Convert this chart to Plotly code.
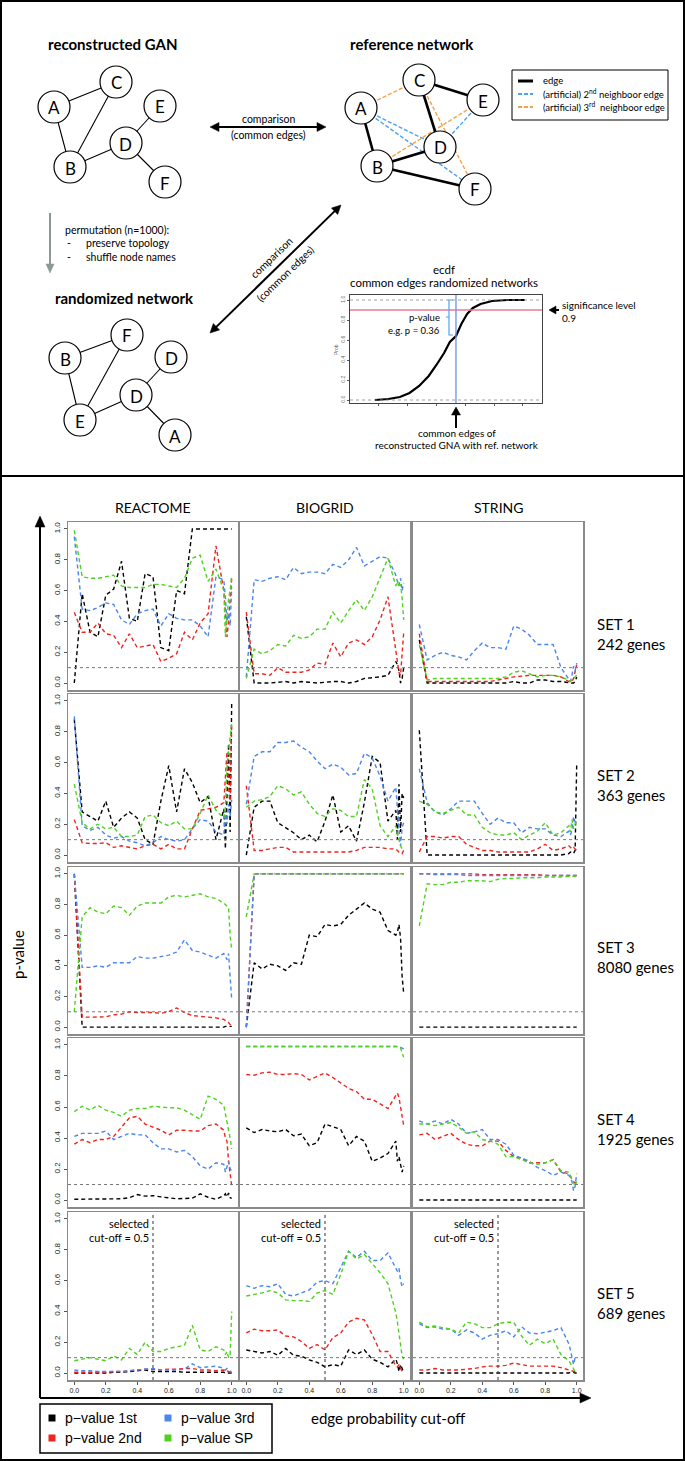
import math
import plotly.graph_objects as go

W, H = 685, 1461

# ---------------------------------------------------------------- data
cutoff = [0.00, 0.05, 0.10, 0.15, 0.20, 0.25, 0.30, 0.35, 0.40, 0.45, 0.50, 0.55, 0.60,
          0.65, 0.70, 0.75, 0.80, 0.85, 0.90, 0.95, 0.96, 0.97, 0.98, 0.99, 1.00]
databases = ["REACTOME", "BIOGRID", "STRING"]
gene_sets = ["SET 1", "SET 2", "SET 3", "SET 4", "SET 5"]
gene_counts = ["242 genes", "363 genes", "8080 genes", "1925 genes", "689 genes"]
series_labels = ["p\u2212value 1st", "p\u2212value 2nd", "p\u2212value 3rd", "p\u2212value SP"]
tick_vals = [0, 0.2, 0.4, 0.6, 0.8, 1.0]
tick_text = ["0.0", "0.2", "0.4", "0.6", "0.8", "1.0"]
significance = 0.1
selected_cutoff = 0.5

# SET 1
s1_reac_p1 = [0.00, 0.58, 0.33, 0.30, 0.57, 0.61, 0.79, 0.42, 0.40, 0.71, 0.69, 0.23, 0.21, 0.60, 0.58, 1.00, 1.00, 1.00, 1.00, 1.00, 1.00, 1.00, 1.00, 1.00, 1.00]
s1_reac_p2 = [0.46, 0.33, 0.33, 0.39, 0.32, 0.31, 0.23, 0.32, 0.23, 0.24, 0.25, 0.14, 0.16, 0.19, 0.33, 0.28, 0.39, 0.45, 0.89, 0.60, 0.45, 0.30, 0.40, 0.55, 0.68]
s1_reac_p3 = [0.95, 0.48, 0.47, 0.49, 0.52, 0.51, 0.41, 0.38, 0.45, 0.47, 0.48, 0.37, 0.45, 0.42, 0.41, 0.41, 0.37, 0.30, 0.69, 0.67, 0.55, 0.40, 0.45, 0.37, 0.62]
s1_reac_sp = [0.99, 0.69, 0.68, 0.68, 0.69, 0.70, 0.63, 0.62, 0.62, 0.62, 0.64, 0.64, 0.63, 0.62, 0.68, 0.81, 0.83, 0.66, 0.74, 0.60, 0.30, 0.45, 0.55, 0.60, 0.70]
s1_bio_p1 = [0.43, 0.00, 0.00, 0.00, 0.005, 0.01, 0.00, 0.01, 0.005, 0.00, 0.005, 0.01, 0.01, 0.00, 0.01, 0.03, 0.035, 0.04, 0.05, 0.14, 0.12, 0.08, 0.00, 0.03, 0.10]
s1_bio_p2 = [0.46, 0.06, 0.06, 0.05, 0.10, 0.07, 0.07, 0.07, 0.085, 0.13, 0.12, 0.26, 0.17, 0.26, 0.28, 0.25, 0.30, 0.41, 0.56, 0.21, 0.13, 0.07, 0.05, 0.20, 0.33]
s1_bio_p3 = [0.04, 0.67, 0.66, 0.68, 0.69, 0.67, 0.75, 0.71, 0.72, 0.72, 0.71, 0.77, 0.75, 0.80, 0.88, 0.76, 0.79, 0.82, 0.81, 0.70, 0.66, 0.63, 0.68, 0.60, 0.65]
s1_bio_sp = [0.03, 0.22, 0.19, 0.21, 0.25, 0.24, 0.31, 0.29, 0.30, 0.35, 0.35, 0.46, 0.39, 0.47, 0.54, 0.47, 0.56, 0.69, 0.81, 0.63, 0.66, 0.62, 0.64, 0.55, 0.41]
s1_str_p1 = [0.28, 0.00, 0.00, 0.00, 0.00, 0.00, 0.00, 0.00, 0.00, 0.00, 0.00, 0.00, 0.01, 0.00, 0.00, 0.02, 0.02, 0.01, 0.01, 0.00, 0.00, 0.00, 0.00, 0.01, 0.04]
s1_str_p2 = [0.32, 0.01, 0.01, 0.01, 0.01, 0.01, 0.01, 0.01, 0.01, 0.01, 0.02, 0.03, 0.04, 0.045, 0.05, 0.05, 0.05, 0.05, 0.04, 0.01, 0.01, 0.01, 0.03, 0.08, 0.12]
s1_str_p3 = [0.38, 0.15, 0.18, 0.20, 0.18, 0.17, 0.15, 0.21, 0.26, 0.23, 0.23, 0.22, 0.37, 0.35, 0.31, 0.25, 0.25, 0.25, 0.10, 0.02, 0.01, 0.05, 0.11, 0.08, 0.13]
s1_str_sp = [0.25, 0.02, 0.03, 0.03, 0.03, 0.03, 0.03, 0.03, 0.03, 0.03, 0.03, 0.04, 0.07, 0.08, 0.06, 0.04, 0.05, 0.05, 0.04, 0.02, 0.01, 0.02, 0.03, 0.04, 0.05]
# SET 2
s2_reac_p1 = [0.88, 0.28, 0.25, 0.22, 0.35, 0.18, 0.24, 0.28, 0.24, 0.10, 0.07, 0.35, 0.58, 0.28, 0.56, 0.47, 0.34, 0.38, 0.10, 0.30, 0.04, 0.40, 0.72, 0.15, 1.00]
s2_reac_p2 = [0.23, 0.08, 0.075, 0.075, 0.08, 0.05, 0.06, 0.05, 0.04, 0.06, 0.07, 0.04, 0.07, 0.04, 0.04, 0.17, 0.29, 0.30, 0.31, 0.34, 0.50, 0.67, 0.45, 0.35, 0.85]
s2_reac_p3 = [0.90, 0.19, 0.16, 0.18, 0.13, 0.11, 0.12, 0.09, 0.08, 0.06, 0.08, 0.12, 0.10, 0.09, 0.10, 0.17, 0.23, 0.22, 0.15, 0.13, 0.29, 0.20, 0.33, 0.25, 0.36]
s2_reac_sp = [0.46, 0.21, 0.17, 0.20, 0.17, 0.18, 0.12, 0.12, 0.13, 0.25, 0.26, 0.21, 0.19, 0.22, 0.17, 0.17, 0.27, 0.39, 0.29, 0.24, 0.31, 0.57, 0.68, 0.76, 0.85]
s2_bio_p1 = [0.00, 0.31, 0.35, 0.35, 0.21, 0.18, 0.145, 0.10, 0.13, 0.085, 0.22, 0.39, 0.15, 0.19, 0.09, 0.34, 0.64, 0.60, 0.22, 0.29, 0.10, 0.46, 0.15, 0.40, 0.37]
s2_bio_p2 = [0.45, 0.03, 0.03, 0.04, 0.05, 0.05, 0.02, 0.02, 0.02, 0.02, 0.02, 0.02, 0.02, 0.02, 0.03, 0.05, 0.05, 0.05, 0.04, 0.04, 0.03, 0.02, 0.02, 0.01, 0.03]
s2_bio_p3 = [0.33, 0.64, 0.67, 0.67, 0.73, 0.73, 0.74, 0.70, 0.67, 0.61, 0.56, 0.59, 0.57, 0.52, 0.53, 0.66, 0.63, 0.51, 0.35, 0.44, 0.30, 0.20, 0.06, 0.18, 0.21]
s2_bio_sp = [0.31, 0.35, 0.36, 0.38, 0.45, 0.43, 0.39, 0.41, 0.33, 0.27, 0.25, 0.30, 0.29, 0.25, 0.25, 0.49, 0.43, 0.19, 0.12, 0.19, 0.14, 0.10, 0.06, 0.04, 0.05]
s2_str_p1 = [0.81, 0.00, 0.00, 0.00, 0.00, 0.00, 0.00, 0.00, 0.00, 0.00, 0.00, 0.00, 0.00, 0.00, 0.00, 0.00, 0.00, 0.00, 0.00, 0.01, 0.02, 0.015, 0.01, 0.03, 0.59]
s2_str_p2 = [0.02, 0.12, 0.12, 0.11, 0.12, 0.12, 0.07, 0.05, 0.03, 0.03, 0.02, 0.02, 0.02, 0.02, 0.02, 0.04, 0.07, 0.03, 0.04, 0.06, 0.05, 0.04, 0.05, 0.04, 0.03]
s2_str_p3 = [0.56, 0.34, 0.28, 0.26, 0.30, 0.35, 0.35, 0.35, 0.27, 0.20, 0.24, 0.21, 0.21, 0.145, 0.18, 0.17, 0.17, 0.13, 0.12, 0.155, 0.13, 0.16, 0.25, 0.21, 0.21]
s2_str_sp = [0.35, 0.33, 0.28, 0.27, 0.29, 0.31, 0.26, 0.26, 0.18, 0.145, 0.13, 0.13, 0.145, 0.10, 0.13, 0.155, 0.21, 0.13, 0.145, 0.19, 0.15, 0.23, 0.17, 0.20, 0.23]
# SET 3
s3_reac_p1 = [1.00, 0.00, 0.00, 0.00, 0.00, 0.00, 0.00, 0.00, 0.00, 0.00, 0.00, 0.00, 0.00, 0.00, 0.00, 0.00, 0.00, 0.00, 0.00, 0.00, 0.005, 0.005, 0.005, 0.005, 0.005]
s3_reac_p2 = [1.00, 0.065, 0.065, 0.065, 0.067, 0.08, 0.085, 0.10, 0.095, 0.095, 0.095, 0.09, 0.10, 0.125, 0.095, 0.075, 0.07, 0.065, 0.06, 0.05, 0.04, 0.035, 0.03, 0.02, 0.005]
s3_reac_p3 = [1.00, 0.39, 0.39, 0.40, 0.39, 0.42, 0.42, 0.42, 0.46, 0.45, 0.45, 0.46, 0.47, 0.49, 0.57, 0.50, 0.49, 0.47, 0.45, 0.48, 0.46, 0.44, 0.48, 0.35, 0.18]
s3_reac_sp = [0.10, 0.72, 0.78, 0.75, 0.74, 0.79, 0.78, 0.73, 0.79, 0.81, 0.81, 0.81, 0.85, 0.86, 0.85, 0.86, 0.87, 0.85, 0.84, 0.81, 0.80, 0.79, 0.78, 0.60, 0.50]
s3_bio_p1 = [0.00, 0.42, 0.38, 0.41, 0.40, 0.37, 0.42, 0.41, 0.60, 0.59, 0.67, 0.66, 0.67, 0.73, 0.77, 0.81, 0.77, 0.75, 0.63, 0.60, 0.62, 0.67, 0.58, 0.33, 0.22]
s3_bio_p2 = [0.00, 1.00, 1.00, 1.00, 1.00, 1.00, 1.00, 1.00, 1.00, 1.00, 1.00, 1.00, 1.00, 1.00, 1.00, 1.00, 1.00, 1.00, 1.00, 1.00, 1.00, 1.00, 1.00, 1.00, 1.00]
s3_bio_p3 = [0.00, 1.00, 1.00, 1.00, 1.00, 1.00, 1.00, 1.00, 1.00, 1.00, 1.00, 1.00, 1.00, 1.00, 1.00, 1.00, 1.00, 1.00, 1.00, 1.00, 1.00, 1.00, 1.00, 1.00, 1.00]
s3_bio_sp = [0.72, 1.00, 1.00, 1.00, 1.00, 1.00, 1.00, 1.00, 1.00, 1.00, 1.00, 1.00, 1.00, 1.00, 1.00, 1.00, 1.00, 1.00, 1.00, 1.00, 1.00, 1.00, 1.00, 1.00, 1.00]
s3_str_p1 = [0.00, 0.00, 0.00, 0.00, 0.00, 0.00, 0.00, 0.00, 0.00, 0.00, 0.00, 0.00, 0.00, 0.00, 0.00, 0.00, 0.00, 0.00, 0.00, 0.00, 0.00, 0.00, 0.00, 0.00, 0.00]
s3_str_p2 = [1.00, 1.00, 1.00, 1.00, 1.00, 1.00, 1.00, 1.00, 0.995, 0.995, 0.995, 0.995, 0.995, 0.995, 0.995, 0.995, 0.99, 0.99, 0.99, 0.99, 0.99, 0.99, 0.99, 0.99, 0.99]
s3_str_p3 = [1.00, 1.00, 0.995, 0.995, 0.995, 0.995, 0.99, 0.99, 0.99, 0.99, 0.99, 0.99, 0.99, 0.99, 0.99, 0.99, 0.99, 0.99, 0.99, 0.99, 0.99, 0.99, 0.99, 0.99, 0.99]
s3_str_sp = [0.66, 0.935, 0.93, 0.93, 0.945, 0.945, 0.955, 0.955, 0.955, 0.95, 0.965, 0.97, 0.97, 0.975, 0.975, 0.975, 0.98, 0.98, 0.98, 0.985, 0.985, 0.985, 0.985, 0.985, 0.985]
# SET 4
s4_reac_p1 = [0.005, 0.005, 0.005, 0.005, 0.005, 0.005, 0.008, 0.015, 0.035, 0.025, 0.028, 0.02, 0.012, 0.008, 0.01, 0.012, 0.04, 0.018, 0.005, 0.028, 0.04, 0.02, 0.045, 0.015, 0.01]
s4_reac_p2 = [0.36, 0.39, 0.37, 0.39, 0.39, 0.41, 0.47, 0.53, 0.54, 0.49, 0.47, 0.45, 0.42, 0.45, 0.45, 0.445, 0.445, 0.48, 0.49, 0.45, 0.40, 0.38, 0.25, 0.15, 0.09]
s4_reac_p3 = [0.41, 0.43, 0.43, 0.43, 0.445, 0.39, 0.41, 0.43, 0.42, 0.42, 0.37, 0.33, 0.33, 0.31, 0.32, 0.28, 0.22, 0.20, 0.24, 0.23, 0.18, 0.22, 0.25, 0.20, 0.19]
s4_reac_sp = [0.57, 0.605, 0.58, 0.61, 0.58, 0.565, 0.54, 0.58, 0.59, 0.59, 0.605, 0.60, 0.595, 0.595, 0.58, 0.55, 0.52, 0.67, 0.65, 0.61, 0.55, 0.50, 0.45, 0.40, 0.33]
s4_bio_p1 = [0.465, 0.435, 0.455, 0.445, 0.44, 0.455, 0.415, 0.425, 0.35, 0.37, 0.49, 0.47, 0.455, 0.35, 0.41, 0.38, 0.25, 0.27, 0.30, 0.38, 0.25, 0.28, 0.22, 0.18, 0.22]
s4_bio_p2 = [0.81, 0.805, 0.82, 0.825, 0.81, 0.81, 0.815, 0.81, 0.775, 0.80, 0.82, 0.79, 0.755, 0.72, 0.70, 0.65, 0.65, 0.62, 0.59, 0.675, 0.69, 0.66, 0.60, 0.55, 0.48]
s4_bio_p3 = [0.99, 0.99, 0.99, 0.99, 0.99, 0.99, 0.99, 0.99, 0.99, 0.99, 0.99, 0.99, 0.99, 0.99, 0.99, 0.99, 0.99, 0.99, 0.99, 0.99, 0.99, 0.99, 0.985, 0.98, 0.975]
s4_bio_sp = [0.99, 0.99, 0.99, 0.99, 0.99, 0.99, 0.99, 0.99, 0.99, 0.99, 0.99, 0.99, 0.99, 0.99, 0.99, 0.99, 0.99, 0.99, 0.99, 0.99, 0.99, 0.985, 0.98, 0.95, 0.92]
s4_str_p1 = [0.00, 0.00, 0.00, 0.00, 0.00, 0.00, 0.00, 0.00, 0.00, 0.00, 0.00, 0.00, 0.00, 0.00, 0.00, 0.00, 0.00, 0.00, 0.00, 0.00, 0.00, 0.00, 0.00, 0.00, 0.00]
s4_str_p2 = [0.42, 0.43, 0.39, 0.41, 0.43, 0.39, 0.36, 0.35, 0.35, 0.38, 0.38, 0.32, 0.28, 0.27, 0.24, 0.24, 0.24, 0.26, 0.18, 0.17, 0.15, 0.135, 0.12, 0.11, 0.13]
s4_str_p3 = [0.51, 0.49, 0.51, 0.49, 0.52, 0.49, 0.43, 0.44, 0.455, 0.39, 0.39, 0.36, 0.29, 0.27, 0.25, 0.21, 0.19, 0.16, 0.18, 0.16, 0.14, 0.12, 0.06, 0.09, 0.17]
s4_str_sp = [0.49, 0.49, 0.48, 0.49, 0.50, 0.47, 0.43, 0.44, 0.39, 0.38, 0.36, 0.28, 0.28, 0.26, 0.24, 0.23, 0.24, 0.26, 0.19, 0.18, 0.16, 0.14, 0.12, 0.09, 0.12]
# SET 5
s5_reac_p1 = [0.00, 0.00, 0.00, 0.00, 0.00, 0.005, 0.005, 0.01, 0.015, 0.02, 0.01, 0.01, 0.01, 0.01, 0.005, 0.005, 0.005, 0.005, 0.005, 0.005, 0.00, 0.00, 0.00, 0.00, 0.00]
s5_reac_p2 = [0.005, 0.005, 0.005, 0.005, 0.005, 0.01, 0.01, 0.015, 0.02, 0.025, 0.025, 0.02, 0.025, 0.025, 0.03, 0.03, 0.02, 0.02, 0.015, 0.02, 0.01, 0.015, 0.01, 0.005, 0.005]
s5_reac_p3 = [0.02, 0.015, 0.015, 0.01, 0.01, 0.01, 0.01, 0.015, 0.02, 0.025, 0.03, 0.02, 0.02, 0.02, 0.025, 0.06, 0.035, 0.04, 0.045, 0.03, 0.02, 0.03, 0.02, 0.01, 0.01]
s5_reac_sp = [0.08, 0.09, 0.10, 0.09, 0.08, 0.11, 0.085, 0.16, 0.12, 0.20, 0.14, 0.14, 0.16, 0.17, 0.18, 0.31, 0.15, 0.14, 0.17, 0.15, 0.12, 0.14, 0.10, 0.12, 0.40]
s5_bio_p1 = [0.15, 0.14, 0.13, 0.14, 0.115, 0.16, 0.115, 0.11, 0.085, 0.07, 0.04, 0.055, 0.045, 0.15, 0.12, 0.15, 0.09, 0.07, 0.04, 0.09, 0.06, 0.01, 0.055, 0.03, 0.005]
s5_bio_p2 = [0.26, 0.285, 0.275, 0.275, 0.28, 0.24, 0.235, 0.205, 0.16, 0.185, 0.15, 0.23, 0.26, 0.33, 0.355, 0.345, 0.25, 0.14, 0.14, 0.045, 0.04, 0.055, 0.03, 0.01, 0.005]
s5_bio_p3 = [0.567, 0.55, 0.567, 0.56, 0.58, 0.51, 0.50, 0.52, 0.54, 0.59, 0.60, 0.58, 0.68, 0.79, 0.75, 0.79, 0.73, 0.73, 0.78, 0.68, 0.66, 0.68, 0.60, 0.56, 0.58]
s5_bio_sp = [0.50, 0.51, 0.52, 0.535, 0.52, 0.475, 0.47, 0.47, 0.465, 0.52, 0.535, 0.51, 0.64, 0.79, 0.74, 0.77, 0.71, 0.65, 0.58, 0.39, 0.33, 0.26, 0.18, 0.11, 0.09]
s5_str_p1 = [0.00, 0.00, 0.00, 0.00, 0.00, 0.00, 0.00, 0.00, 0.00, 0.00, 0.00, 0.00, 0.00, 0.00, 0.00, 0.00, 0.00, 0.00, 0.00, 0.00, 0.005, 0.005, 0.005, 0.00, 0.00]
s5_str_p2 = [0.02, 0.02, 0.03, 0.02, 0.02, 0.02, 0.025, 0.03, 0.04, 0.045, 0.045, 0.05, 0.065, 0.055, 0.045, 0.045, 0.045, 0.045, 0.035, 0.02, 0.015, 0.01, 0.01, 0.005, 0.005]
s5_str_p3 = [0.32, 0.295, 0.30, 0.285, 0.285, 0.245, 0.28, 0.26, 0.22, 0.245, 0.255, 0.275, 0.235, 0.30, 0.26, 0.255, 0.265, 0.275, 0.295, 0.19, 0.15, 0.10, 0.055, 0.10, 0.105]
s5_str_sp = [0.33, 0.30, 0.305, 0.295, 0.285, 0.26, 0.33, 0.32, 0.295, 0.295, 0.32, 0.33, 0.33, 0.24, 0.18, 0.22, 0.19, 0.22, 0.12, 0.08, 0.06, 0.05, 0.03, 0.01, 0.00]

# ecdf inset (common edges of randomized networks vs cumulative probability)
ecdf_edges = [13, 20, 26, 31, 36, 41, 45, 49, 52, 55.2, 58, 61, 64, 68, 74, 82, 91]
ecdf_prob = [0.0, 0.01, 0.03, 0.07, 0.14, 0.24, 0.35, 0.47, 0.58, 0.64, 0.76, 0.86, 0.92, 0.96, 0.99, 1.0, 1.0]
ecdf_xticks = [15, 30, 45, 60, 75, 90]
observed_edges = 55.2
sig_level = 0.9

# network diagram topology
gan_nodes = {"A": (54, 107), "C": (116, 82), "E": (160, 106), "D": (126, 143), "B": (70, 167), "F": (165, 182)}
gan_edges = [("A", "C"), ("A", "B"), ("B", "C"), ("B", "D"), ("D", "E"), ("D", "F")]
ref_nodes = {"C": (419, 80), "A": (361, 108), "E": (483, 100), "D": (440, 147), "B": (377, 166), "F": (475, 189)}
ref_edges = [("A", "B"), ("C", "E"), ("C", "D"), ("B", "D"), ("B", "F")]
ref_2nd = [("A", "D"), ("A", "F"), ("D", "E")]
ref_3rd = [("A", "C"), ("B", "E"), ("C", "F")]
rnd_labels = ["F", "B", "D", "D", "E", "A"]
rnd_pos = [(127, 335), (65, 358), (171, 357), (136, 395), (80, 420), (175, 435)]
rnd_edges = [(1, 0), (1, 4), (4, 0), (4, 3), (3, 2), (3, 5)]

# ---------------------------------------------------------------- styling / geometry
series_colors = ["#000000", "#f0241e", "#4a86ec", "#4ed21e"]
BOX = "#8a8a8a"
DF = "Lato"
NODE_R = 16
COL_X = [(68, 238), (240, 410), (413, 583)]
ROW_Y = [(522, 690), (694, 862), (867, 1034), (1038, 1207), (1212, 1380)]
SET_LABEL_Y = [624, 775, 947, 1119, 1293]

panel_values = [
    [(s1_reac_p1, s1_reac_p2, s1_reac_p3, s1_reac_sp), (s1_bio_p1, s1_bio_p2, s1_bio_p3, s1_bio_sp), (s1_str_p1, s1_str_p2, s1_str_p3, s1_str_sp)],
    [(s2_reac_p1, s2_reac_p2, s2_reac_p3, s2_reac_sp), (s2_bio_p1, s2_bio_p2, s2_bio_p3, s2_bio_sp), (s2_str_p1, s2_str_p2, s2_str_p3, s2_str_sp)],
    [(s3_reac_p1, s3_reac_p2, s3_reac_p3, s3_reac_sp), (s3_bio_p1, s3_bio_p2, s3_bio_p3, s3_bio_sp), (s3_str_p1, s3_str_p2, s3_str_p3, s3_str_sp)],
    [(s4_reac_p1, s4_reac_p2, s4_reac_p3, s4_reac_sp), (s4_bio_p1, s4_bio_p2, s4_bio_p3, s4_bio_sp), (s4_str_p1, s4_str_p2, s4_str_p3, s4_str_sp)],
    [(s5_reac_p1, s5_reac_p2, s5_reac_p3, s5_reac_sp), (s5_bio_p1, s5_bio_p2, s5_bio_p3, s5_bio_sp), (s5_str_p1, s5_str_p2, s5_str_p3, s5_str_sp)],
]


def PX(x):
    return x / W


def PY(y):
    return 1 - y / H


fig = go.Figure()
axes = {}
shapes = []
ann = []


def text(t, x, y, size, anchor="center", bold=False, angle=0, family=DF, color="black", align="center"):
    ann.append(dict(text=f"<b>{t}</b>" if bold else t, x=PX(x), y=PY(y), xref="paper", yref="paper",
                    showarrow=False, xanchor=anchor, yanchor="middle", textangle=angle, align=align,
                    font=dict(family=family, size=size, color=color)))


def pline(x0, y0, x1, y1, color="black", width=1, dash="solid"):
    shapes.append(dict(type="line", xref="paper", yref="paper", x0=PX(x0), y0=PY(y0), x1=PX(x1), y1=PY(y1),
                       line=dict(color=color, width=width, dash=dash)))


def head(tx, ty, ux, uy, length, half, color):
    # filled triangular arrow head with its tip at (tx, ty), pointing along (ux, uy)
    bx, by = tx - ux * length, ty - uy * length
    nx, ny = -uy, ux
    p1 = (bx + nx * half, by + ny * half)
    p2 = (bx - nx * half, by - ny * half)
    path = (f"M {PX(tx)} {PY(ty)} L {PX(p1[0])} {PY(p1[1])} L {PX(p2[0])} {PY(p2[1])} Z")
    shapes.append(dict(type="path", xref="paper", yref="paper", path=path, fillcolor=color,
                       line=dict(color=color, width=0.5)))


def arrow(x0, y0, x1, y1, width=2, color="black", both=False, length=9, half=4.5):
    d = math.hypot(x1 - x0, y1 - y0)
    ux, uy = (x1 - x0) / d, (y1 - y0) / d
    sx, sy = x0, y0
    ex, ey = x1 - ux * length * 0.7, y1 - uy * length * 0.7
    if both:
        sx, sy = x0 + ux * length * 0.7, y0 + uy * length * 0.7
    pline(sx, sy, ex, ey, color=color, width=width)
    head(x1, y1, ux, uy, length, half, color)
    if both:
        head(x0, y0, -ux, -uy, length, half, color)


def node(label, cx, cy):
    shapes.append(dict(type="circle", xref="paper", yref="paper", x0=PX(cx - NODE_R), x1=PX(cx + NODE_R),
                       y0=PY(cy + NODE_R), y1=PY(cy - NODE_R), line=dict(color="black", width=1.2),
                       fillcolor="white"))
    text(label, cx, cy + 1, 17)


# ---------------------------------------------------------------- frame
shapes.append(dict(type="rect", xref="paper", yref="paper", x0=0, x1=1, y0=0, y1=1,
                   line=dict(color="black", width=4)))
pline(0, 476, W, 476, width=2)

# ---------------------------------------------------------------- top diagram
text("reconstructed GAN", 113, 44, 15, bold=True)
text("reference network", 412, 44, 15, bold=True)
text("randomized network", 124, 298, 15, bold=True)

for a, b in gan_edges:
    pline(*gan_nodes[a], *gan_nodes[b], width=1.1)
for a, b in ref_2nd:
    pline(*ref_nodes[a], *ref_nodes[b], color="#4da3f0", width=1.4, dash="4px,2px")
for a, b in ref_3rd:
    pline(*ref_nodes[a], *ref_nodes[b], color="#f5a04a", width=1.4, dash="4px,2px")
for a, b in ref_edges:
    pline(*ref_nodes[a], *ref_nodes[b], width=2.6)
for a, b in rnd_edges:
    pline(*rnd_pos[a], *rnd_pos[b], width=1.1)
for k, (x, y) in gan_nodes.items():
    node(k, x, y)
for k, (x, y) in ref_nodes.items():
    node(k, x, y)
for lab, (x, y) in zip(rnd_labels, rnd_pos):
    node(lab, x, y)

# legend of reference network
shapes.append(dict(type="rect", xref="paper", yref="paper", x0=PX(512), x1=PX(668), y0=PY(120), y1=PY(70),
                   line=dict(color="black", width=1), fillcolor="white"))
pline(518, 81, 533, 81, width=3)
pline(518, 94, 533, 94, color="#4da3f0", width=2, dash="4px,2px")
pline(518, 107, 533, 107, color="#f5a04a", width=2, dash="4px,2px")
text("edge", 541, 81, 9.5, anchor="left")
text("(artificial) 2<sup>nd</sup> neighboor edge", 541, 94, 9.5, anchor="left")
text("(artificial) 3<sup>rd</sup>  neighboor edge", 541, 107, 9.5, anchor="left")

# comparison arrows
arrow(210, 127, 326, 127, width=2, both=True)
text("comparison", 268, 119, 10.5)
text("(common edges)", 268, 135, 10.5)
arrow(210, 333, 341, 205, width=2, both=True)
text("comparison", 271, 258, 10.5, angle=-44)
text("(common edges)", 285, 274, 10.5, angle=-44)

# permutation
arrow(50, 213, 50, 273, width=2, color="#8a9896", length=9, half=4)
text("permutation (n=1000):", 63, 230, 10.5, anchor="left")
text("-", 65, 243, 10.5, anchor="left")
text("-", 65, 257, 10.5, anchor="left")
text("preserve topology", 84, 243, 10.5, anchor="left")
text("shuffle node names", 84, 257, 10.5, anchor="left")

# ecdf inset
axes["xaxis16"] = dict(domain=[PX(350), PX(542)], anchor="y16", range=[0, 100], showline=True, mirror=True,
                       linecolor="#444", linewidth=1, showgrid=False, zeroline=False, tickmode="array",
                       tickvals=ecdf_xticks, showticklabels=False, ticks="outside", ticklen=2,
                       tickcolor="#555")
axes["yaxis16"] = dict(domain=[PY(403), PY(295)], anchor="x16", range=[-0.03, 1.05], showline=True, mirror=True,
                       linecolor="#444", linewidth=1, showgrid=False, zeroline=False, tickmode="array",
                       tickvals=tick_vals, ticktext=tick_text, ticks="outside", ticklen=2, tickcolor="#555",
                       tickangle=-90, tickfont=dict(size=5, family="Arial", color="#666"))
for yv in (0, 1):
    shapes.append(dict(type="line", xref="x16 domain", yref="y16", x0=0, x1=1, y0=yv, y1=yv,
                       line=dict(color="#888", width=0.8, dash="dot")))
shapes.append(dict(type="line", xref="x16 domain", yref="y16", x0=0, x1=1, y0=sig_level, y1=sig_level,
                   line=dict(color="#ef7896", width=1.6)))
shapes.append(dict(type="line", xref="x16", yref="y16 domain", x0=observed_edges, x1=observed_edges, y0=0, y1=1,
                   line=dict(color="#6b90ea", width=1.3)))
fig.add_trace(go.Scatter(x=ecdf_edges, y=ecdf_prob, mode="lines", line=dict(color="black", width=2.2),
                         xaxis="x16", yaxis="y16", hoverinfo="skip", showlegend=False))
shapes.append(dict(type="path", xref="paper", yref="paper",
                   path=f"M {PX(453)} {PY(300)} L {PX(449)} {PY(300)} L {PX(449)} {PY(335)} L {PX(453)} {PY(335)} "
                        f"M {PX(449)} {PY(317)} L {PX(446)} {PY(317)}",
                   line=dict(color="#4da3f0", width=1.2)))
text("Prob", 336, 350, 5, angle=-90, family="Arial", color="#666")
text("ecdf", 444, 270, 11.5)
text("common edges randomized networks", 444, 283, 11.5)
text("p-value", 442, 317, 9.5, anchor="right")
text("e.g. p = 0.36", 442, 330, 9.5, anchor="right")
text("significance level", 560, 305, 10, anchor="left")
text("0.9", 560, 318, 10, anchor="left")
arrow(559, 310, 549, 310, width=2, length=7, half=4)
arrow(456, 428, 456, 407, width=2, length=8, half=4.5)
text("common edges of", 457, 433, 10)
text("reconstructed GNA with ref. network", 457, 445, 10)

# ---------------------------------------------------------------- bottom grid
for r in range(5):
    for c in range(3):
        k = r * 3 + c + 1
        sfx = "" if k == 1 else str(k)
        xa, ya = "x" + sfx, "y" + sfx
        x0, x1 = COL_X[c]
        y0, y1 = ROW_Y[r]
        bottom = r == 4
        left = c == 0
        axes["xaxis" + sfx] = dict(domain=[PX(x0), PX(x1)], anchor=ya, range=[-0.04, 1.04], showline=True,
                                   mirror=True, linecolor=BOX, linewidth=1.5, showgrid=False, zeroline=False,
                                   tickmode="array", tickvals=tick_vals, ticktext=tick_text,
                                   showticklabels=bottom, ticks="outside" if bottom else "", ticklen=3,
                                   tickwidth=1, tickcolor="#555",
                                   tickfont=dict(family="Arial", size=7, color="#222"))
        axes["yaxis" + sfx] = dict(domain=[PY(y1), PY(y0)], anchor=xa, range=[-0.045, 1.045], showline=True,
                                   mirror=True, linecolor=BOX, linewidth=1.5, showgrid=False, zeroline=False,
                                   tickmode="array", tickvals=tick_vals, ticktext=tick_text,
                                   showticklabels=left, ticks="outside" if left else "", ticklen=3,
                                   tickwidth=1, tickcolor="#555", tickangle=-90,
                                   tickfont=dict(family="Arial", size=8, color="#222"))
        for s in range(4):
            fig.add_trace(go.Scatter(x=cutoff, y=panel_values[r][c][s], mode="lines", name=series_labels[s],
                                     line=dict(color=series_colors[s], width=1.4, dash="4px,3px"),
                                     xaxis=xa, yaxis=ya, hoverinfo="skip", showlegend=False))
        shapes.append(dict(type="line", xref=xa + " domain", yref=ya, x0=0, x1=1, y0=significance,
                           y1=significance, line=dict(color="#777", width=1, dash="dot")))
        if bottom:
            shapes.append(dict(type="line", xref=xa, yref=ya + " domain", x0=selected_cutoff, x1=selected_cutoff,
                               y0=0, y1=1, line=dict(color="#333", width=1, dash="dot")))
            ann.append(dict(text="selected<br>cut-off = 0.5", xref=xa, yref=ya + " domain", x=0.485, y=0.89,
                            xanchor="right", yanchor="middle", align="right", showarrow=False,
                            font=dict(family=DF, size=11, color="black")))
    text(gene_sets[r], 595, SET_LABEL_Y[r], 15, anchor="left")
    text(gene_counts[r], 595, SET_LABEL_Y[r] + 20, 15, anchor="left")

for c in range(3):
    text(databases[c], (COL_X[c][0] + COL_X[c][1]) / 2, 507, 14)

# axis arrows of the grid
arrow(40, 1398, 40, 516, width=2, length=11, half=5)
arrow(40, 1398, 591, 1398, width=2, length=11, half=5)
text("p-value", 18, 955, 15, angle=-90)
text("edge probability cut-off", 388, 1418, 15)

# legend
shapes.append(dict(type="rect", xref="paper", yref="paper", x0=PX(40), x1=PX(272), y0=PY(1453), y1=PY(1404),
                   line=dict(color="black", width=1.5)))
leg_pos = [(52, 1418), (52, 1438), (168, 1418), (168, 1438)]
for s, (lx, ly) in enumerate(leg_pos):
    shapes.append(dict(type="rect", xref="paper", yref="paper", x0=PX(lx - 3.5), x1=PX(lx + 3.5),
                       y0=PY(ly + 3.5), y1=PY(ly - 3.5), line=dict(width=0), fillcolor=series_colors[s]))
    text(series_labels[s], lx + 11, ly, 14, anchor="left", family="Arial")

fig.update_layout(width=W, height=H, margin=dict(l=0, r=0, t=0, b=0), paper_bgcolor="white",
                  plot_bgcolor="white", showlegend=False, shapes=shapes, annotations=ann, **axes)

fig.write_html("out.html", include_plotlyjs=True, full_html=True,
               config={"displayModeBar": False, "staticPlot": True},
               post_script="document.body.style.margin='0px';")
